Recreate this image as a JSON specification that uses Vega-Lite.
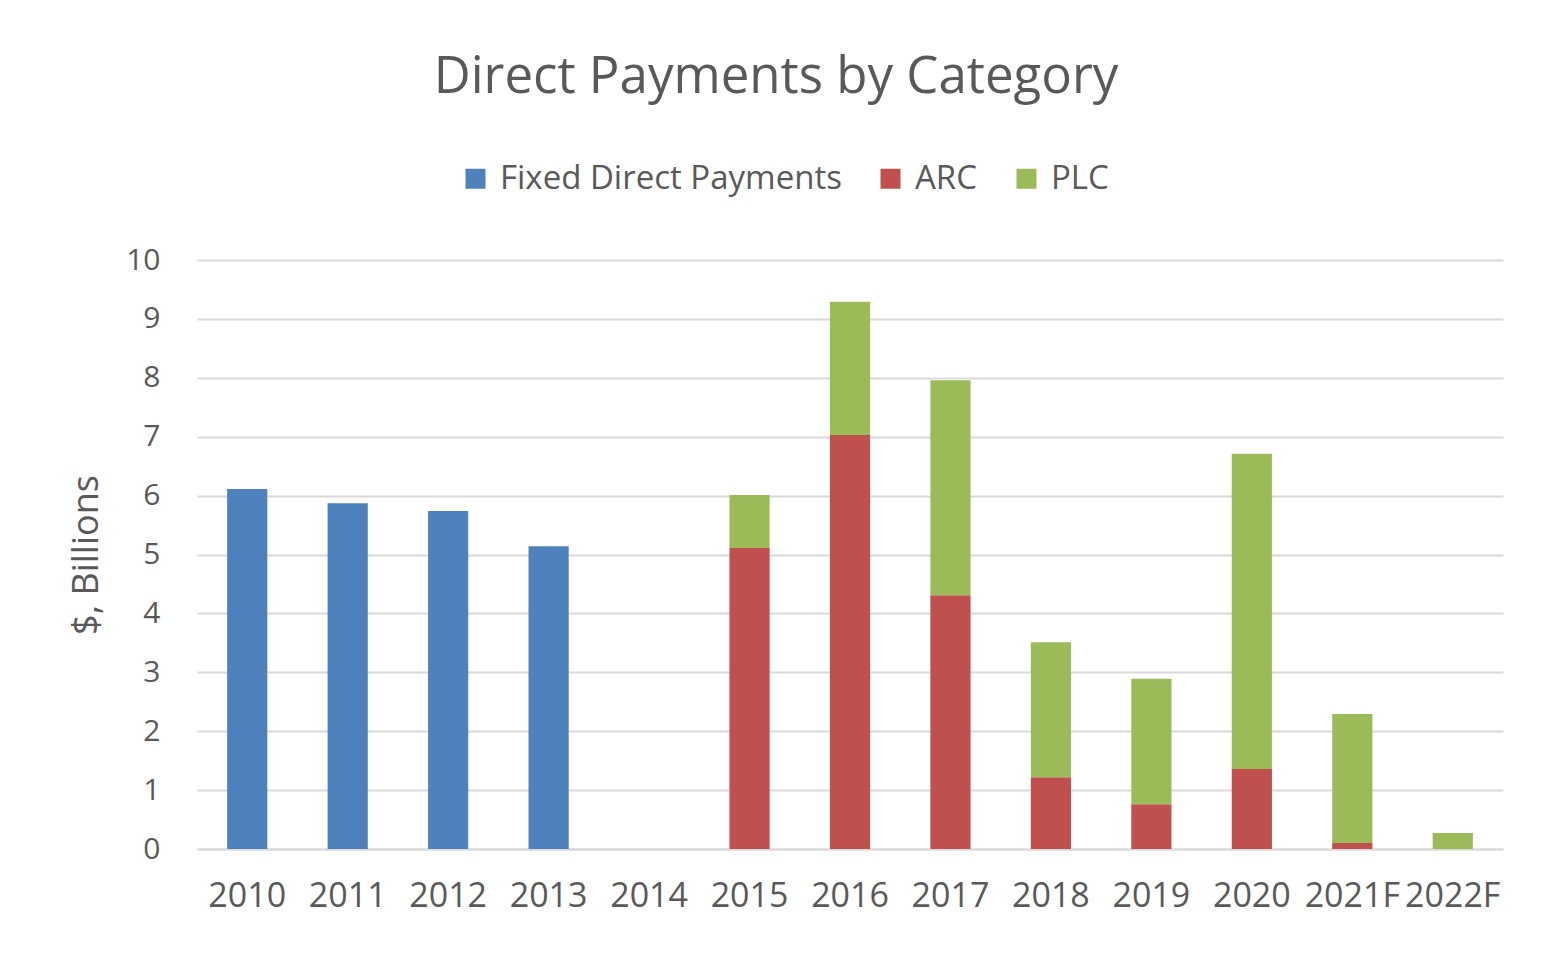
{
  "$schema": "https://vega.github.io/schema/vega-lite/v6.json",
  "autosize": "none",
  "width": 1306,
  "height": 589,
  "padding": {"left": 197, "top": 260, "right": 55, "bottom": 111},
  "background": "white",
  "title": {
    "text": "Direct Payments by Category",
    "font": "Open Sans",
    "fontSize": 51,
    "fontWeight": "normal",
    "color": "#595959",
    "anchor": "middle",
    "dx": -74,
    "offset": 58
  },
  "data": {
    "values": [
      {"year": "2010", "category": "Fixed Direct Payments", "value": 6.11},
      {"year": "2011", "category": "Fixed Direct Payments", "value": 5.87},
      {"year": "2012", "category": "Fixed Direct Payments", "value": 5.74},
      {"year": "2013", "category": "Fixed Direct Payments", "value": 5.14},
      {"year": "2015", "category": "ARC", "value": 5.11},
      {"year": "2015", "category": "PLC", "value": 0.90},
      {"year": "2016", "category": "ARC", "value": 7.03},
      {"year": "2016", "category": "PLC", "value": 2.26},
      {"year": "2017", "category": "ARC", "value": 4.31},
      {"year": "2017", "category": "PLC", "value": 3.65},
      {"year": "2018", "category": "ARC", "value": 1.22},
      {"year": "2018", "category": "PLC", "value": 2.29},
      {"year": "2019", "category": "ARC", "value": 0.76},
      {"year": "2019", "category": "PLC", "value": 2.13},
      {"year": "2020", "category": "ARC", "value": 1.36},
      {"year": "2020", "category": "PLC", "value": 5.35},
      {"year": "2021F", "category": "ARC", "value": 0.10},
      {"year": "2021F", "category": "PLC", "value": 2.19},
      {"year": "2022F", "category": "ARC", "value": 0.0},
      {"year": "2022F", "category": "PLC", "value": 0.27}
    ]
  },
  "mark": {"type": "bar"},
  "encoding": {
    "x": {
      "field": "year",
      "type": "ordinal",
      "scale": {
        "domain": ["2010","2011","2012","2013","2014","2015","2016","2017","2018","2019","2020","2021F","2022F"],
        "paddingInner": 0.6,
        "paddingOuter": 0.3
      },
      "axis": {
        "title": null,
        "labelAngle": 0,
        "labelFont": "Open Sans",
        "labelFontSize": 34,
        "labelColor": "#595959",
        "labelPadding": 30,
        "ticks": false,
        "domainColor": "#d9d9d9",
        "domainWidth": 2
      }
    },
    "y": {
      "field": "value",
      "type": "quantitative",
      "stack": "zero",
      "scale": {"domain": [0, 10]},
      "axis": {
        "title": "$, Billions",
        "titleFont": "Open Sans",
        "titleFontSize": 36,
        "titleFontWeight": "normal",
        "titleColor": "#595959",
        "titlePadding": 20,
        "labelFont": "Open Sans",
        "labelFontSize": 30,
        "labelColor": "#595959",
        "labelPadding": 37,
        "values": [0,1,2,3,4,5,6,7,8,9,10],
        "labelOverlap": false,
        "ticks": false,
        "domain": false,
        "grid": true,
        "gridColor": "#d9d9d9",
        "gridWidth": 2
      }
    },
    "color": {
      "field": "category",
      "type": "nominal",
      "scale": {
        "domain": ["Fixed Direct Payments", "ARC", "PLC"],
        "range": ["#4F81BD", "#C0504D", "#9BBB59"]
      },
      "legend": {
        "title": null,
        "orient": "none",
        "direction": "horizontal",
        "legendX": 262,
        "legendY": -98,
        "symbolType": "square",
        "symbolSize": 400,
        "labelFont": "Open Sans",
        "labelFontSize": 33,
        "labelLimit": 600,
        "labelColor": "#595959",
        "columnPadding": 32,
        "labelOffset": 8
      }
    },
    "order": {"field": "category", "type": "nominal", "sort": "ascending"}
  },
  "config": {
    "view": {"stroke": null}
  }
}
